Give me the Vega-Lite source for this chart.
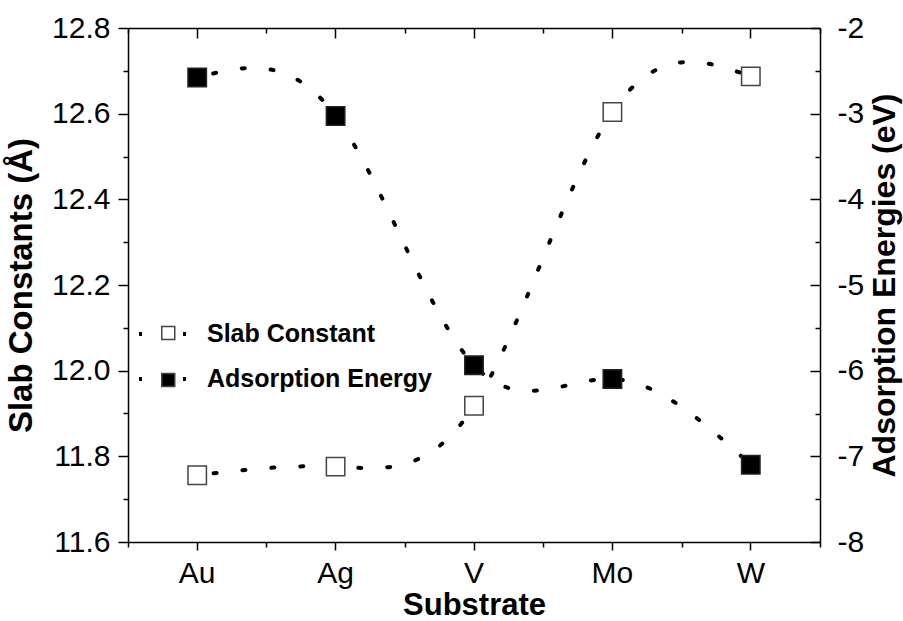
{
  "$schema": "https://vega.github.io/schema/vega-lite/v6.json",
  "width": 692,
  "height": 514,
  "autosize": {"type": "none"},
  "padding": {"left": 128, "top": 28, "right": 83, "bottom": 79},
  "config": {
    "view": {"stroke": null},
    "font": "Liberation Sans",
    "axis": {
      "grid": false,
      "domainColor": "#000",
      "tickColor": "#000",
      "labelColor": "#000",
      "titleColor": "#000",
      "domainWidth": 1.5,
      "tickWidth": 1.5,
      "labelFont": "Liberation Sans",
      "titleFont": "Liberation Sans",
      "labelFontSize": 30,
      "titleFontSize": 31,
      "titleFontWeight": "bold"
    }
  },
  "data": {
    "values": [
      {"substrate": "Au", "slab": 11.756, "ads": -2.578},
      {"substrate": "Ag", "slab": 11.776, "ads": -3.027},
      {"substrate": "V", "slab": 11.918, "ads": -5.936},
      {"substrate": "Mo", "slab": 12.604, "ads": -6.097},
      {"substrate": "W", "slab": 12.687, "ads": -7.099}
    ]
  },
  "layer": [
    {
      "layer": [
        {
          "mark": {"type": "line", "interpolate": "natural", "strokeWidth": 4, "strokeCap": "round", "strokeDash": [3, 26], "strokeDashOffset": 12.5},
          "encoding": {
            "x": {"field": "substrate", "type": "nominal", "sort": null, "scale": {"type": "band", "paddingInner": 0, "paddingOuter": 0},
              "axis": {"orient": "bottom", "title": "Substrate", "tickSize": 8, "labelPadding": 8, "labelAngle": 0, "titlePadding": 2}},
            "y": {"field": "slab", "type": "quantitative", "scale": {"domain": [11.6, 12.8], "nice": false, "zero": false},
              "axis": {"orient": "left", "values": [11.6, 11.8, 12.0, 12.2, 12.4, 12.6, 12.8], "format": ".1f", "tickSize": 10, "labelPadding": 8, "title": "Slab Constants (Å)", "titleFontSize": 33, "titlePadding": 13}},
            "stroke": {"datum": "Slab Constant", "type": "nominal",
              "scale": {"domain": ["Slab Constant", "Adsorption Energy"], "range": ["#000", "#000"]},
              "legend": {"orient": "none", "legendX": 9, "legendY": 280, "title": null, "symbolType": "stroke", "symbolSize": 2304, "symbolStrokeWidth": 4, "symbolDash": [3, 41], "symbolOffset": 0, "labelFontSize": 25, "labelFontWeight": "bold", "labelFont": "Liberation Sans", "labelColor": "#000", "labelOffset": 18, "labelLimit": 500, "rowPadding": 6, "padding": 0, "zindex": 0}}
          }
        },
        {
          "mark": {"type": "point", "shape": "square", "filled": true, "size": 340, "stroke": "#444", "strokeWidth": 1.5, "opacity": 1},
          "encoding": {
            "x": {"field": "substrate", "type": "nominal", "sort": null, "scale": {"type": "band", "paddingInner": 0, "paddingOuter": 0},
              "axis": {"orient": "bottom", "tickBand": "extent", "tickSize": 5, "labels": false, "domain": false, "title": null}},
            "y": {"field": "slab", "type": "quantitative", "scale": {"domain": [11.6, 12.8], "nice": false, "zero": false},
              "axis": {"orient": "left", "values": [11.7, 11.9, 12.1, 12.3, 12.5, 12.7], "tickSize": 5, "labels": false, "domain": false, "title": null}},
            "fill": {"datum": "Slab", "type": "nominal",
              "scale": {"domain": ["Slab", "Adsorption"], "range": ["#fff", "#000"]},
              "legend": {"orient": "none", "legendX": 27.75, "legendY": 292.5, "title": null, "symbolType": "square", "symbolSize": 169, "symbolStrokeColor": "#444", "symbolStrokeWidth": 1.5, "labelFontSize": 25, "labelExpr": "''", "labelOpacity": 0, "rowPadding": 21, "padding": 0, "zindex": 1}}
          }
        }
      ],
      "resolve": {"axis": {"x": "independent", "y": "independent"}}
    },
    {
      "layer": [
        {
          "mark": {"type": "line", "interpolate": "natural", "strokeWidth": 4, "strokeCap": "round", "strokeDash": [3, 26], "strokeDashOffset": 12.5},
          "encoding": {
            "x": {"field": "substrate", "type": "nominal", "sort": null, "scale": {"type": "band", "paddingInner": 0, "paddingOuter": 0},
              "axis": {"orient": "top", "tickSize": -10, "labels": false, "domain": true, "title": null}},
            "y": {"field": "ads", "type": "quantitative", "scale": {"domain": [-8, -2], "nice": false, "zero": false},
              "axis": {"orient": "right", "values": [-8, -7, -6, -5, -4, -3, -2], "labelExpr": "'-' + abs(datum.value)", "tickSize": -10, "labelPadding": 27, "title": "Adsorption Energies (eV)", "titleFontSize": 32, "titleAngle": 270, "titleBaseline": "top", "titlePadding": 6}},
            "stroke": {"datum": "Adsorption Energy", "type": "nominal"}
          }
        },
        {
          "mark": {"type": "point", "shape": "square", "filled": true, "size": 340, "stroke": "#222", "strokeWidth": 1.5, "opacity": 1},
          "encoding": {
            "x": {"field": "substrate", "type": "nominal", "sort": null, "scale": {"type": "band", "paddingInner": 0, "paddingOuter": 0},
              "axis": {"orient": "top", "tickBand": "extent", "tickSize": -5, "labels": false, "domain": false, "title": null}},
            "y": {"field": "ads", "type": "quantitative", "scale": {"domain": [-8, -2], "nice": false, "zero": false},
              "axis": {"orient": "right", "values": [-7.5, -6.5, -5.5, -4.5, -3.5, -2.5], "tickSize": -5, "labels": false, "domain": false, "title": null}},
            "fill": {"datum": "Adsorption", "type": "nominal"}
          }
        }
      ],
      "resolve": {"axis": {"x": "independent", "y": "independent"}}
    }
  ],
  "resolve": {"scale": {"y": "independent"}, "axis": {"x": "independent", "y": "independent"}}
}
